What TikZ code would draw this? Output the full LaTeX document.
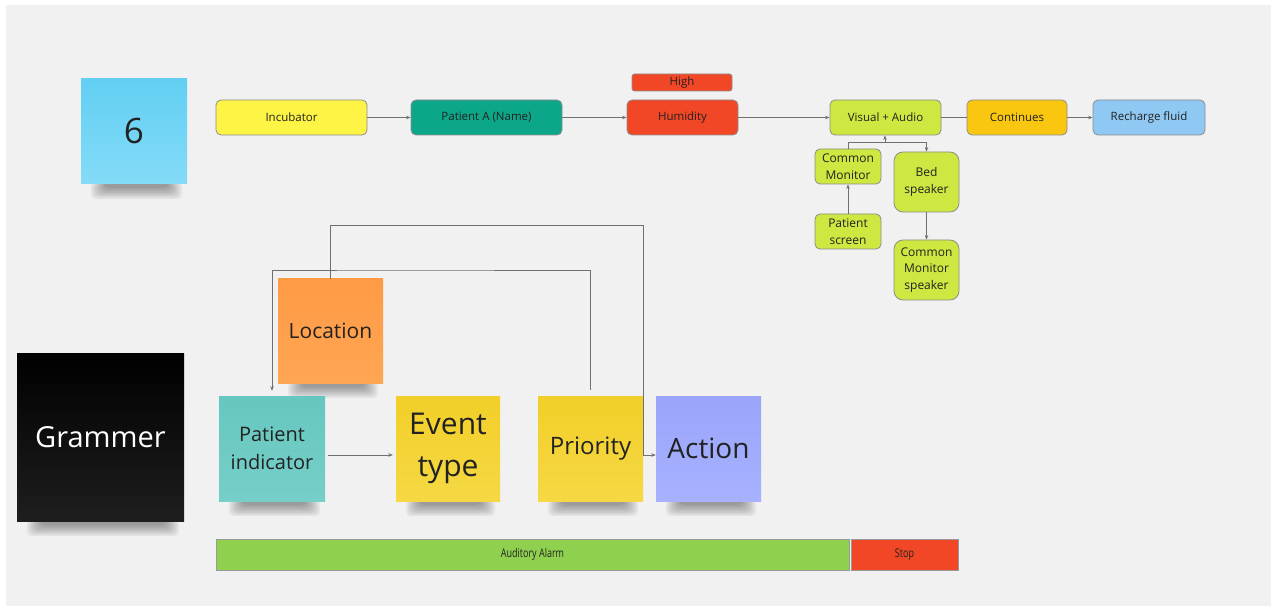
\documentclass[tikz,border=0pt]{standalone}
\usepackage{fontspec}
\setmainfont{Open Sans}
\usetikzlibrary{arrows.meta,backgrounds}

\definecolor{board}{HTML}{F1F1F1}
\definecolor{ink}{HTML}{222222}
\definecolor{wire}{HTML}{707070}
\definecolor{edge}{HTML}{8C8C8C}
\definecolor{cyellow}{HTML}{FEF445}
\definecolor{cteal}{HTML}{0CA789}
\definecolor{cred}{HTML}{F24726}
\definecolor{clime}{HTML}{CEE741}
\definecolor{corange}{HTML}{FAC710}
\definecolor{cblue}{HTML}{8FC8F2}
\definecolor{cgreen}{HTML}{8FD14F}
% sticky note shades (top / bottom)
\definecolor{skyA}{HTML}{62CFF3}\definecolor{skyB}{HTML}{84DBF8}
\definecolor{darkB}{HTML}{1E1E1E}
\definecolor{orA}{HTML}{FF9A45}\definecolor{orB}{HTML}{FFA653}
\definecolor{tqA}{HTML}{66C7C0}\definecolor{tqB}{HTML}{76CFC8}
\definecolor{ylA}{HTML}{F2CF28}\definecolor{ylB}{HTML}{F5D843}
\definecolor{vlA}{HTML}{9AA5FB}\definecolor{vlB}{HTML}{A7B1FF}

\newcommand{\fsz}[2]{\fontsize{#1}{#2}\selectfont}

\tikzset{
  box/.style={draw=edge, line width=0.8pt, rounded corners=5pt, align=center,
    text=ink, inner sep=0pt, font=\fsz{11.5pt}{14pt}},
  minibox/.style={box, rounded corners=5pt, fill=clime, font=\fsz{12pt}{16.5pt}},
  sticky/.style={inner sep=0pt, align=center, text=ink},
  bar/.style={draw=black!40, line width=0.8pt, inner sep=0pt, text=ink},
  arr/.style={draw=wire, line width=0.8pt, -{Stealth[length=4.5pt,width=3.5pt]}},
  wireline/.style={draw=wire, line width=0.8pt},
}

\begin{document}
\begin{tikzpicture}[x=1pt,y=-1pt]
\useasboundingbox (0,0) rectangle (1273,609);

% ---- top row: alarm flow ----
\node[sticky, minimum width=106pt, minimum height=105pt,
  top color=skyA, bottom color=skyB, font=\fsz{35pt}{40pt}]
  (six) at (134,131.5) {6};

\node[box, fill=cyellow, minimum width=151pt, minimum height=35pt] (incub) at (291.5,117.5) {Incubator};
\node[box, fill=cteal, minimum width=151pt, minimum height=35pt] (patA) at (486.5,117.5) {Patient A (Name)};
\node[box, fill=cred, minimum width=111pt, minimum height=35pt] (humid) at (682.5,117.5) {Humidity};
\node[box, fill=cred, rounded corners=2.5pt, minimum width=100pt, minimum height=17pt] (high) at (682,82.5) {High};
\node[box, fill=clime, minimum width=111pt, minimum height=35pt] (visau) at (885.5,117.5) {Visual + Audio};
\node[box, fill=corange, minimum width=100pt, minimum height=35pt] (cont) at (1017,117.5) {Continues};
\node[box, fill=cblue, minimum width=112pt, minimum height=35pt] (rech) at (1149,117.5) {Recharge fluid};

\node[minibox, minimum width=66pt, minimum height=35pt] (cmon) at (848,166.5) {Common\\Monitor};
\node[minibox, rounded corners=9pt, minimum width=65pt, minimum height=60pt] (bed) at (926.5,182) {Bed\\speaker};
\node[minibox, minimum width=66pt, minimum height=35pt] (pscr) at (848,231.5) {Patient\\screen};
\node[minibox, rounded corners=9pt, minimum width=65pt, minimum height=60pt] (cmsp) at (926.5,270) {Common\\Monitor\\speaker};

\draw[arr] (incub) -- (patA);
\draw[arr] (patA) -- (humid);
\draw[arr] (humid) -- (visau);
\draw[wireline] (visau) -- (cont);
\draw[arr] (cont) -- (rech);

\coordinate (split) at (885,142);
\draw[arr] (cmon.north) |- (split) -- (split |- visau.south);
\draw[arr] (split) -| (bed.north);
\draw[arr] (pscr) -- (cmon);
\draw[arr] (bed) -- (cmsp);

% ---- grammar notes ----
\node[sticky, minimum width=167pt, minimum height=168pt,
  top color=black, bottom color=darkB, text=white, font=\fsz{29pt}{34pt}]
  (gram) at (100.5,437) {Grammer};

\node[sticky, minimum width=105pt, minimum height=104pt,
  top color=orA, bottom color=orB, font=\fsz{21pt}{25pt}]
  (loc) at (330.5,331) {Location};
\node[sticky, minimum width=106pt, minimum height=105pt,
  top color=tqA, bottom color=tqB, font=\fsz{20pt}{28pt}]
  (pind) at (272,448.5) {Patient\\indicator};
\node[sticky, minimum width=104pt, minimum height=105pt,
  top color=ylA, bottom color=ylB, font=\fsz{30pt}{42pt}]
  (evt) at (448,448.5) {Event\\type};
\node[sticky, minimum width=105pt, minimum height=105pt,
  top color=ylA, bottom color=ylB, font=\fsz{24pt}{29pt}]
  (prio) at (590.5,448.5) {Priority};
\node[sticky, minimum width=105pt, minimum height=105pt,
  top color=vlA, bottom color=vlB, font=\fsz{28pt}{33pt}]
  (act) at (708.5,448.5) {Action};

\coordinate (topturn) at (643,225);
\coordinate (actin) at (643,455);
\draw[wireline] (loc.north) |- (topturn) -- (actin);
\draw[arr] (actin) -- (actin -| act.west);

\coordinate (midturn) at (400,270);
\draw[arr, shorten <=6pt, shorten >=5pt] (prio.north) |- (midturn) -| (pind.north);

\draw[arr, shorten <=3pt, shorten >=3pt] ([yshift=-6.5pt]pind.east) -- ([yshift=-6.5pt]evt.west);

% ---- bottom bar ----
\node[bar, fill=cgreen, minimum width=633pt, minimum height=31pt, font=\fsz{12pt}{14pt}]
  (aud) at (532.5,554.5) {\scalebox{0.75}[1]{Auditory Alarm}};
\node[bar, fill=cred, minimum width=107pt, minimum height=31pt, font=\fsz{12pt}{14pt}]
  (stop) at (904.5,554.5) {\scalebox{0.75}[1]{Stop}};

% ---- board and soft shadows under the sticky notes ----
\begin{scope}[on background layer]
  \fill[white] (0,0) rectangle (1273,609);
  \fill[board] (6,5) rectangle (1271,606);
  \foreach \n in {six,gram,loc,pind,evt,prio,act} {
    \foreach \i in {0,...,7} {
      \fill[black, opacity=0.05, rounded corners=5pt]
        ([xshift=10pt+2*\i pt, yshift=2pt]\n.south west) rectangle
        ([xshift=-5pt-2*\i pt, yshift=-15pt+1.6*\i pt]\n.south east);
    }
  }
\end{scope}
\end{tikzpicture}
\end{document}
